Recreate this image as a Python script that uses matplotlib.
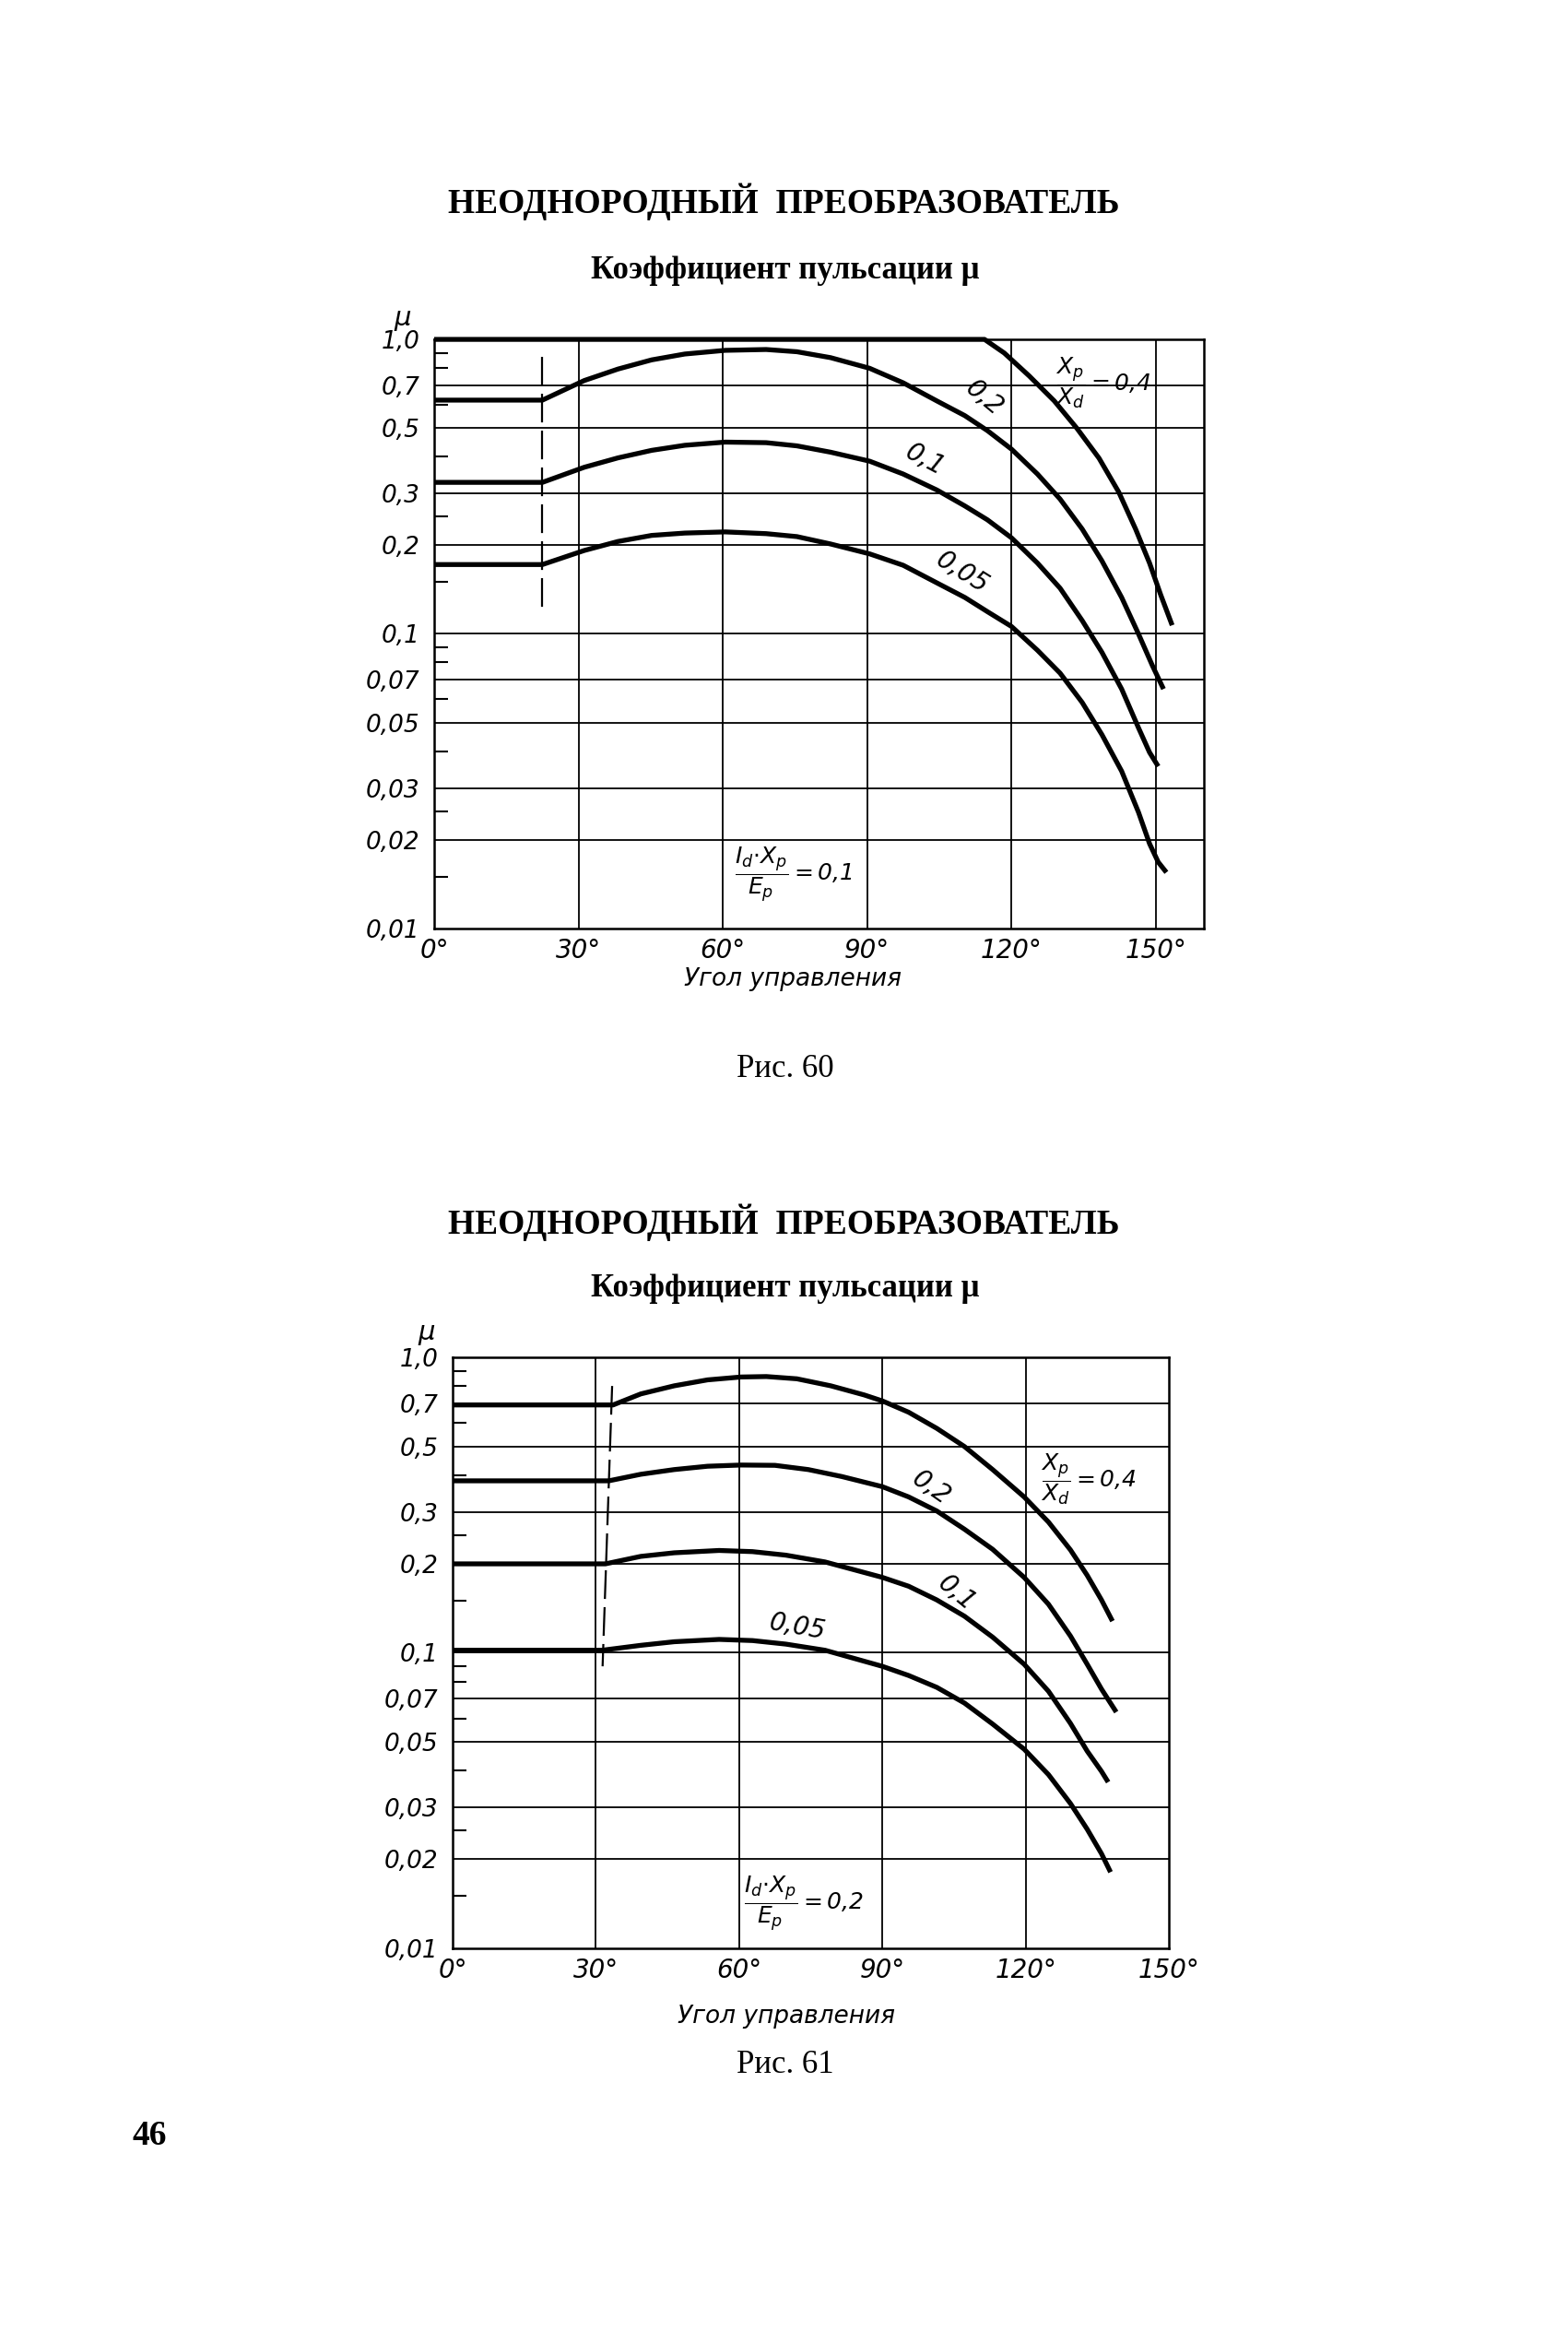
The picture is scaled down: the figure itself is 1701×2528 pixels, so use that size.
import matplotlib
matplotlib.use("Agg")
import matplotlib.pyplot as plt
from matplotlib.ticker import FixedLocator, NullFormatter

plt.rcParams.update({
    "font.family": "DejaVu Sans",
    "mathtext.fontset": "custom",
    "mathtext.rm": "DejaVu Sans:italic",
    "mathtext.it": "DejaVu Sans:italic",
    "mathtext.bf": "DejaVu Sans:italic:bold",
})

# ---- axis values ----
Y_MAJOR = [1.0, 0.7, 0.5, 0.3, 0.2, 0.1, 0.07, 0.05, 0.03, 0.02, 0.01]
Y_LABELS = ["1,0", "0,7", "0,5", "0,3", "0,2", "0,1", "0,07", "0,05", "0,03", "0,02", "0,01"]
Y_GRID = [0.7, 0.5, 0.3, 0.2, 0.1, 0.07, 0.05, 0.03, 0.02]
Y_MINOR = [0.9, 0.8, 0.6, 0.4, 0.25, 0.15, 0.09, 0.08, 0.06, 0.04, 0.025, 0.015]
X_TICKS = [0, 30, 60, 90, 120, 150]
X_LABELS = ["0°", "30°", "60°", "90°", "120°", "150°"]

# ---- Рис. 60  (Id*Xp/Ep = 0,1), curves for Xp/Xd = 0,4 / 0,2 / 0,1 / 0,05 ----
F60_A_04 = [0, 114.4, 118.5, 123.7, 128.9, 133.6, 138.2, 142.3, 145.8, 148.7, 151.0, 153.4]
F60_M_04 = [1.0, 1.0, 0.899, 0.751, 0.618, 0.499, 0.395, 0.303, 0.227, 0.174, 0.136, 0.107]
F60_A_02 = [0, 22.5, 31.2, 38.2, 45.2, 52.1, 60.5, 69.0, 75.4, 82.4, 90.5, 97.5, 104.5, 110.3, 115.0,
            120.0, 125.4, 130.1, 134.7, 138.8, 142.9, 146.4, 149.3, 151.6]
F60_M_02 = [0.622, 0.622, 0.725, 0.793, 0.852, 0.892, 0.918, 0.924, 0.908, 0.867, 0.798, 0.712, 0.618,
            0.551, 0.490, 0.424, 0.349, 0.287, 0.227, 0.177, 0.133, 0.100, 0.078, 0.065]
F60_A_01 = [0, 22.5, 31.2, 38.2, 45.2, 52.1, 60.5, 69.0, 75.4, 82.4, 90.5, 97.5, 104.5, 110.3, 115.0,
            120.0, 125.4, 130.1, 134.7, 138.8, 142.9, 146.4, 148.7, 150.5]
F60_M_01 = [0.327, 0.327, 0.368, 0.396, 0.420, 0.437, 0.448, 0.446, 0.435, 0.414, 0.386, 0.349, 0.308,
            0.272, 0.244, 0.212, 0.174, 0.143, 0.111, 0.0866, 0.065, 0.048, 0.0396, 0.0355]
F60_A_005 = [0, 22.5, 31.2, 38.2, 45.2, 52.1, 60.5, 69.0, 75.4, 82.4, 90.5, 97.5, 104.5, 110.3, 115.0,
             120.0, 125.4, 130.1, 134.7, 138.8, 142.9, 146.4, 148.7, 150.5, 152.2]
F60_M_005 = [0.172, 0.172, 0.192, 0.206, 0.216, 0.220, 0.222, 0.219, 0.214, 0.202, 0.187, 0.171, 0.149,
             0.133, 0.119, 0.106, 0.088, 0.0736, 0.0585, 0.0455, 0.0342, 0.0248, 0.0194, 0.0168, 0.0155]
F60_DASH_A = [22.5, 22.5]
F60_DASH_M = [0.87, 0.12]

# ---- Рис. 61  (Id*Xp/Ep = 0,2) ----
F61_A_04 = [0, 33.6, 39.4, 46.4, 53.4, 60.4, 65.7, 72.1, 79.2, 86.2, 90.0, 95.5, 101.4, 107.2, 113.1,
            119.7, 124.8, 129.4, 132.9, 135.9, 138.2]
F61_M_04 = [0.69, 0.69, 0.752, 0.801, 0.839, 0.858, 0.861, 0.846, 0.801, 0.746, 0.712, 0.652, 0.575,
            0.499, 0.417, 0.337, 0.277, 0.223, 0.183, 0.151, 0.128]
F61_A_02 = [0, 32.7, 39.4, 46.4, 53.4, 60.4, 67.5, 74.5, 81.5, 90.0, 95.5, 101.4, 107.2, 113.1, 119.7,
            124.8, 129.4, 132.9, 135.9, 139.0]
F61_M_02 = [0.382, 0.382, 0.402, 0.417, 0.428, 0.432, 0.431, 0.417, 0.395, 0.365, 0.337, 0.302, 0.262,
            0.224, 0.180, 0.146, 0.114, 0.0915, 0.0754, 0.063]
F61_A_01 = [0, 32.0, 39.4, 46.4, 55.8, 62.8, 69.8, 78.0, 90.0, 95.5, 101.4, 107.2, 113.1, 119.7, 124.8,
            129.4, 132.9, 135.9, 137.3]
F61_M_01 = [0.2, 0.2, 0.212, 0.218, 0.222, 0.220, 0.214, 0.203, 0.180, 0.168, 0.151, 0.133, 0.113,
            0.0915, 0.0741, 0.0577, 0.0465, 0.0397, 0.0365]
F61_A_005 = [0, 31.3, 39.4, 46.4, 55.8, 62.8, 69.8, 78.0, 90.0, 95.5, 101.4, 107.2, 113.1, 119.7, 124.8,
             129.4, 132.9, 135.9, 137.8]
F61_M_005 = [0.102, 0.102, 0.106, 0.109, 0.111, 0.110, 0.107, 0.102, 0.090, 0.0838, 0.0764, 0.0676,
             0.0574, 0.0472, 0.0387, 0.0309, 0.0253, 0.0209, 0.0181]
F61_DASH_A = [33.4, 31.4]
F61_DASH_M = [0.8, 0.09]

TICK_FONT = dict(fontstyle="italic", fontsize=19)
SERIF = ["Liberation Serif", "DejaVu Serif"]


def draw_panel(ax, curves, xmax, vgrid, dash_a, dash_m):
    ax.set_yscale("log")
    ax.set_xlim(0, xmax)
    ax.set_ylim(0.01, 1.0)
    for v in Y_GRID:
        ax.axhline(v, color="k", lw=1.3, zorder=1)
    for v in vgrid:
        ax.axvline(v, color="k", lw=1.3, zorder=1)
    for a, m in curves:
        ax.plot(a, m, color="k", lw=3.8, clip_on=False, zorder=3,
                solid_joinstyle="round", solid_capstyle="butt")
    ax.plot(dash_a, dash_m, color="k", lw=1.6, dashes=(14, 4), zorder=2)

    ax.set_yticks(Y_MAJOR)
    ax.set_yticklabels(Y_LABELS, **TICK_FONT)
    ax.yaxis.set_minor_locator(FixedLocator(Y_MINOR))
    ax.yaxis.set_minor_formatter(NullFormatter())
    ax.tick_params(axis="y", which="major", length=0, pad=11)
    ax.tick_params(axis="y", which="minor", direction="in", length=11, width=1.5)
    ax.set_xticks(X_TICKS)
    ax.set_xticklabels(X_LABELS, fontstyle="italic", fontsize=20)
    ax.tick_params(axis="x", which="both", length=0, pad=7)
    for sp in ax.spines.values():
        sp.set_linewidth(1.8)


def curve_label(ax, x, y, s, rot):
    ax.text(x, y, s, rotation=rot, rotation_mode="anchor", ha="center", va="center",
            fontstyle="italic", fontsize=20)


fig = plt.figure(figsize=(17.01, 25.28), dpi=100)

# ================= Рис. 60 =================
ax1 = fig.add_axes([0.2769, 0.6017, 0.4909, 0.2527])
draw_panel(ax1,
           [(F60_A_04, F60_M_04), (F60_A_02, F60_M_02), (F60_A_01, F60_M_01), (F60_A_005, F60_M_005)],
           160, [30, 60, 90, 120, 150], F60_DASH_A, F60_DASH_M)
ax1.text(-0.041, 1.036, "μ", transform=ax1.transAxes, ha="center", va="center",
         fontstyle="italic", fontsize=21)
ax1.text(0.466, -0.086, "Угол управления", transform=ax1.transAxes, ha="center", va="center",
         fontstyle="italic", fontsize=19)
curve_label(ax1, 114.4, 0.63, "0,2", -40)
curve_label(ax1, 102, 0.39, "0,1", -28)
curve_label(ax1, 109.7, 0.162, "0,05", -32)
ax1.text(129.2, 0.71, r"$\dfrac{X_p}{X_d}=0{,}4$", ha="left", va="center", fontsize=18)
ax1.text(62.4, 0.0152, r"$\dfrac{I_d{\cdot}X_p}{E_p}=0{,}1$", ha="left", va="center", fontsize=18)

# ================= Рис. 61 =================
ax2 = fig.add_axes([0.2887, 0.1642, 0.4567, 0.2535])
draw_panel(ax2,
           [(F61_A_04, F61_M_04), (F61_A_02, F61_M_02), (F61_A_01, F61_M_01), (F61_A_005, F61_M_005)],
           150, [30, 60, 90, 120], F61_DASH_A, F61_DASH_M)
ax2.text(-0.036, 1.042, "μ", transform=ax2.transAxes, ha="center", va="center",
         fontstyle="italic", fontsize=21)
ax2.text(0.466, -0.115, "Угол управления", transform=ax2.transAxes, ha="center", va="center",
         fontstyle="italic", fontsize=19)
curve_label(ax2, 100.2, 0.361, "0,2", -35)
curve_label(ax2, 105.5, 0.159, "0,1", -40)
curve_label(ax2, 72.1, 0.122, "0,05", -10)
ax2.text(123.2, 0.388, r"$\dfrac{X_p}{X_d}=0{,}4$", ha="left", va="center", fontsize=18)
ax2.text(61.0, 0.0141, r"$\dfrac{I_d{\cdot}X_p}{E_p}=0{,}2$", ha="left", va="center", fontsize=18)

# ================= page texts =================
for y_title, y_sub, y_fig, fig_name in [(219, 293, 1160, "Рис. 60"), (1326, 1397, 2240, "Рис. 61")]:
    fig.text(0.5, 1 - y_title / 2528, "НЕОДНОРОДНЫЙ  ПРЕОБРАЗОВАТЕЛЬ", ha="center", va="center",
             family=SERIF, fontweight="bold", fontsize=27)
    fig.text(0.501, 1 - y_sub / 2528, "Коэффициент пульсации μ", ha="center", va="center",
             family=SERIF, fontweight="bold", fontsize=25)
    fig.text(0.501, 1 - y_fig / 2528, fig_name, ha="center", va="center", family=SERIF, fontsize=25)

fig.text(162 / 1701, 1 - 2317 / 2528, "46", ha="center", va="center", family=SERIF,
         fontweight="bold", fontsize=27)

fig.savefig("out.png", dpi=100, facecolor="white")
